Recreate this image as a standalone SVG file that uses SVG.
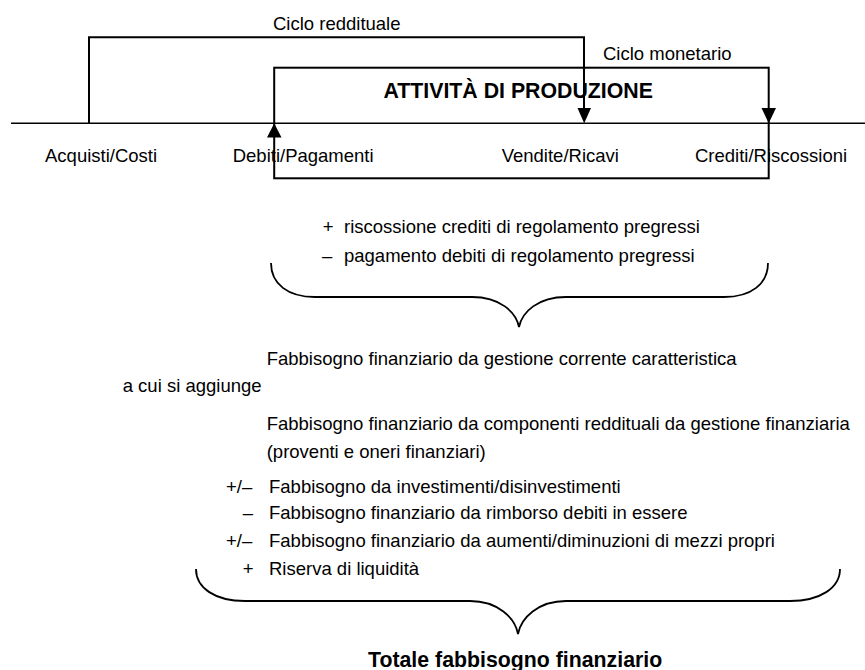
<svg xmlns="http://www.w3.org/2000/svg" width="865" height="670" viewBox="0 0 865 670">
<style>
text{font-family:"Liberation Sans",Arial,sans-serif;font-size:18.5px;fill:#000}
.b{font-weight:bold;font-size:21.3px}
.ln{fill:none;stroke:#000;stroke-width:2}
.ax{fill:none;stroke:#000;stroke-width:1.6}
.br{fill:none;stroke:#000;stroke-width:1.8}
.ah{fill:#000;stroke:none}
</style>
<rect width="865" height="670" fill="#fff"/>
<g id="connectors">
<line class="ax" x1="11" y1="123.3" x2="865" y2="123.3"/>
<path class="ln" d="M89,123.3 V37.3 H584 V109"/>
<polygon class="ah" points="577.5,108 591,108 584.2,123.3"/>
<polygon class="ah" points="761.5,108 776,108 768.7,123.3"/>
<polygon class="ah" points="267,137.5 281.5,137.5 274.2,123.3"/>
</g>
<g id="produzione">
<rect class="ln" x="274.2" y="67.7" width="494.5" height="110.6"/>
<text class="b" x="383.5" y="98.3">ATTIVITÀ DI PRODUZIONE</text>
</g>
<g id="ciclo-reddituale"><text x="273" y="29.5">Ciclo reddituale</text></g>
<g id="ciclo-monetario"><text x="603" y="59.5">Ciclo monetario</text></g>
<g id="acquisti"><text x="45" y="162.3">Acquisti/Costi</text></g>
<g id="debiti"><text x="232.7" y="162.3">Debiti/Pagamenti</text></g>
<g id="vendite"><text x="501.7" y="162.3">Vendite/Ricavi</text></g>
<g id="crediti"><text x="695" y="162.3">Crediti/Riscossioni</text></g>
<g id="regolamento">
<text x="322.7" y="233">+</text><text x="344" y="233">riscossione crediti di regolamento pregressi</text>
<text x="322" y="262">–</text><text x="344" y="262">pagamento debiti di regolamento pregressi</text>
<path class="br" d="M271,263 C271,284 288,297 315,297 H472 C500,297 516,312 519,327 C522,312 538,297 566,297 H724 C751,297 768,284 768,263"/>
</g>
<g id="fabbisogno-corrente"><text x="266.7" y="365">Fabbisogno finanziario da gestione corrente caratteristica</text></g>
<g id="aggiunge"><text x="122.7" y="392">a cui si aggiunge</text></g>
<g id="totale-voci">
<text x="266.7" y="430">Fabbisogno finanziario da componenti reddituali da gestione finanziaria</text>
<text x="266.7" y="458">(proventi e oneri finanziari)</text>
<text x="226" y="493">+/–</text><text x="269" y="493">Fabbisogno da investimenti/disinvestimenti</text>
<text x="242.7" y="518.5">–</text><text x="269" y="518.5">Fabbisogno finanziario da rimborso debiti in essere</text>
<text x="226" y="546.5">+/–</text><text x="269" y="546.5">Fabbisogno finanziario da aumenti/diminuzioni di mezzi propri</text>
<text x="242.7" y="574.5">+</text><text x="269" y="574.5">Riserva di liquidità</text>
<path class="br" d="M196,569 C196,588 215,601 245,601 H470 C498,601 515,618 518,634 C521,618 538,601 566,601 H790 C820,601 840,588 840,569"/>
</g>
<g id="totale"><text class="b" x="368" y="666.5">Totale fabbisogno finanziario</text></g>
</svg>
